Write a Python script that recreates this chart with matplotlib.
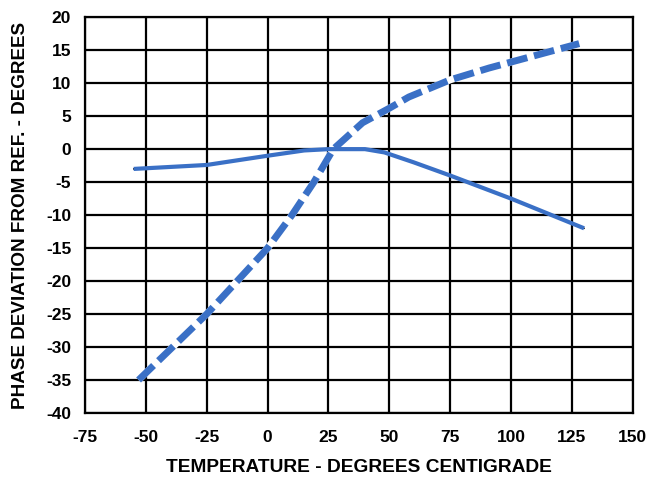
import matplotlib
matplotlib.use("Agg")
import matplotlib.pyplot as plt

# phase deviation vs temperature, two curves
solid_t = [-55, -25, 0, 15, 25, 40, 48, 60, 75, 100, 130]
solid_dev = [-3, -2.4, -1, -0.2, 0, 0, -0.5, -2, -4, -7.5, -12]

dash_t = [-53, -25, 0, 10, 19, 27, 39, 50, 58, 75, 91, 100, 128]
dash_dev = [-35, -25, -15, -10, -5, 0, 4, 6.2, 7.9, 10.5, 12.3, 13.2, 16]

xticks = [-75, -50, -25, 0, 25, 50, 75, 100, 125, 150]
yticks = [20, 15, 10, 5, 0, -5, -10, -15, -20, -25, -30, -35, -40]

blue = "#3a70c6"
plt.rcParams['font.family'] = ['Liberation Sans', 'DejaVu Sans']

fig = plt.figure(figsize=(6.47, 4.78), dpi=100)
ax = fig.add_axes([0.1314, 0.136, 0.8466, 0.828])

# thin black trace under the solid blue (as in the scanned original)
ax.plot(solid_t, solid_dev, color="black", lw=1.0, zorder=3)
ax.plot(solid_t, solid_dev, color=blue, lw=3.0, zorder=4, solid_capstyle="butt")
# dashed curve has white gaps that cut the grid
ax.plot(dash_t, dash_dev, color="white", lw=5.0, zorder=3.5,
        solid_capstyle="butt")
ax.plot(dash_t, dash_dev, color=blue, lw=5.0, zorder=4,
        dashes=(3.0, 1.0), dash_capstyle="butt")

ax.set_xlim(-75, 150)
ax.set_ylim(-40, 20)
ax.set_xticks(xticks)
ax.set_yticks(yticks)
ax.set_xticklabels([str(v) for v in xticks], fontsize=12.5, fontweight="bold")
ax.set_yticklabels([str(v) for v in yticks], fontsize=12.5, fontweight="bold")
ax.tick_params(length=0, pad=10)
ax.tick_params(axis="x", pad=12)

ax.grid(True, color="black", lw=1.6)
ax.set_axisbelow(True)
for s in ax.spines.values():
    s.set_linewidth(1.6)

ax.set_xlabel("TEMPERATURE - DEGREES CENTIGRADE", fontsize=13.8,
              fontweight="bold", labelpad=10)
ax.set_ylabel("PHASE DEVIATION FROM REF. - DEGREES", fontsize=13.6,
              fontweight="bold", labelpad=12)

fig.savefig("out.png", dpi=100)
